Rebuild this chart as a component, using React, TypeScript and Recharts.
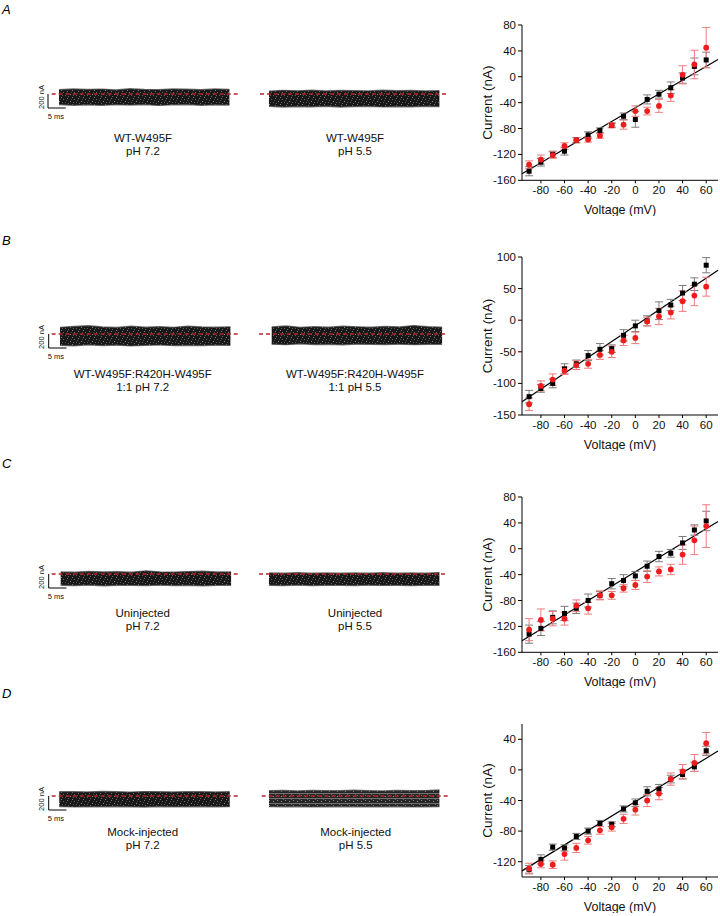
import React from "react";
import {
  ScatterChart,
  Scatter,
  XAxis,
  YAxis,
  ErrorBar,
  ReferenceLine,
  ComposedChart,
  Area,
} from "recharts";

const FONT = '"Liberation Sans", Arial, Helvetica, sans-serif';

// I-V data (nA), one value per voltage step
const voltages = [-90, -80, -70, -60, -50, -40, -30, -20, -10, 0, 10, 20, 30, 40, 50, 60];
const vTicks = [-80, -60, -40, -20, 0, 20, 40, 60];

const aPh72 = [-146, -132, -120, -115, -98, -90, -83, -75, -61, -66, -35, -27, -17, -2, 16, 26];
const aPh72Err = [7, 6, 5, 6, 4, 5, 4, 3, 5, 12, 7, 6, 9, 8, 13, 12];
const aPh55 = [-136, -128, -121, -107, -98, -97, -91, -75, -74, -53, -53, -45, -29, 3, 19, 45];
const aPh55Err = [6, 7, 5, 5, 4, 4, 4, 4, 7, 8, 6, 10, 9, 14, 22, 31];
const aFit = [-150, 26.6];

const bPh72 = [-121, -108, -100, -77, -69, -56, -46, -45, -24, -9, -1, 15, 24, 43, 57, 87];
const bPh72Err = [10, 6, 7, 8, 6, 8, 9, 6, 9, 9, 8, 14, 9, 12, 10, 12];
const bPh55 = [-133, -104, -94, -80, -71, -69, -55, -50, -32, -28, -2, 6, 12, 30, 39, 53];
const bPh55Err = [10, 8, 9, 6, 7, 7, 7, 9, 8, 9, 7, 13, 10, 16, 16, 15];
const bFit = [-129, 79];

const cPh72 = [-132, -123, -106, -100, -92, -80, -72, -54, -49, -42, -27, -12, -7, 9, 29, 43];
const cPh72Err = [14, 11, 10, 11, 8, 10, 6, 8, 9, 7, 8, 8, 6, 10, 8, 15];
const cPh55 = [-125, -110, -108, -108, -88, -92, -72, -72, -61, -56, -43, -35, -32, -9, 13, 35];
const cPh55Err = [17, 17, 11, 10, 9, 9, 7, 6, 6, 7, 9, 7, 8, 15, 22, 33];
const cFit = [-142, 42];

const dPh72 = [-130, -117, -101, -102, -87, -80, -70, -71, -51, -43, -28, -25, -12, -6, 4, 25];
const dPh72Err = [5, 6, 4, 4, 4, 4, 4, 3, 4, 5, 6, 6, 5, 6, 6, 6];
const dPh55 = [-129, -123, -124, -110, -102, -92, -79, -75, -64, -52, -40, -31, -12, -2, 9, 35];
const dPh55Err = [7, 5, 5, 8, 6, 5, 5, 5, 6, 7, 8, 8, 8, 9, 11, 14];
const dFit = [-132, 24.6];

// current traces: envelope of the noisy records (nA relative to baseline), sampled every 4 ms
const traceTimes = [0, 4, 8, 12, 16, 20, 24, 28, 32, 36, 40, 44, 48];
const aLeftTop = [60, 72, 64, 70, 58, 75, 66, 62, 71, 68, 60, 73, 65];
const aLeftBottom = [-150, -160, -155, -162, -152, -158, -150, -163, -155, -150, -160, -154, -157];
const aRightTop = [40, 52, 45, 55, 42, 50, 48, 44, 53, 46, 50, 42, 48];
const aRightBottom = [-175, -185, -178, -182, -176, -186, -180, -174, -184, -178, -182, -176, -180];
const bLeftTop = [95, 108, 118, 100, 92, 112, 98, 104, 95, 110, 100, 96, 102];
const bLeftBottom = [-160, -168, -155, -165, -158, -170, -162, -156, -166, -160, -164, -158, -162];
const bRightTop = [100, 115, 95, 105, 98, 112, 102, 96, 108, 100, 120, 104, 98];
const bRightBottom = [-145, -152, -140, -150, -146, -155, -142, -148, -150, -144, -152, -146, -148];
const cLeftTop = [30, 25, 35, 28, 32, 26, 45, 30, 27, 34, 40, 28, 30];
const cLeftBottom = [-160, -165, -158, -168, -160, -162, -166, -158, -164, -160, -168, -162, -160];
const cRightTop = [15, 10, 18, 12, 16, 10, 14, 12, 18, 10, 15, 12, 20];
const cRightBottom = [-160, -164, -158, -166, -160, -162, -165, -158, -163, -160, -166, -161, -160];
const dLeftTop = [60, 62, 58, 64, 60, 56, 63, 60, 58, 62, 60, 57, 61];
const dLeftBottom = [-150, -156, -152, -155, -150, -154, -157, -151, -153, -155, -150, -154, -152];
const dRightTop = [75, 78, 72, 80, 76, 74, 82, 76, 73, 79, 75, 77, 85];
const dRightBottom = [-152, -155, -150, -156, -153, -151, -155, -152, -154, -150, -156, -153, -152];

const PX_PER_MS = 3.55;
const NA_PER_PX = 200 / 14;
const X_AXIS_H = 36;

const rowsOf = (vals: number[], errs: number[]) =>
  voltages.map((v, k) => ({ v, i: vals[k], e: errs[k] }));

const squareShape = (p: any) => (
  <rect x={p.cx - 2.5} y={p.cy - 2.5} width={5} height={5} fill="#000" />
);
const circleShape = (p: any) => <circle cx={p.cx} cy={p.cy} r={2.9} fill="#ee1c1c" />;

function IVPlot({ top, marginTop, plotH, yDomain, yTicks, black, blackErr, red, redErr, fit }: any) {
  const height = marginTop + plotH + X_AXIS_H;
  return (
    <div style={{ position: "absolute", left: 460, top }}>
      <ScatterChart
        width={260}
        height={height}
        margin={{ top: marginTop, right: 2, bottom: 0, left: 0 }}
        style={{ fontFamily: FONT }}
      >
        <XAxis
          type="number"
          dataKey="v"
          domain={[-96, 70]}
          ticks={vTicks}
          height={X_AXIS_H}
          allowDataOverflow
          stroke="#000"
          tickSize={3}
          tickMargin={3}
          tick={{ fontSize: 11.5, fill: "#111" }}
          label={{
            value: "Voltage (mV)",
            position: "insideBottom",
            offset: 2,
            style: { fontSize: 12.5, fill: "#111" },
          }}
        />
        <YAxis
          type="number"
          dataKey="i"
          domain={yDomain}
          ticks={yTicks}
          width={62}
          allowDataOverflow
          stroke="#000"
          tickSize={4}
          tick={{ fontSize: 11.5, fill: "#111" }}
          label={{
            value: "Current (nA)",
            angle: -90,
            position: "insideLeft",
            dx: 22,
            style: { fontSize: 13.5, fill: "#111", textAnchor: "middle" },
          }}
        />
        <ReferenceLine
          segment={[
            { x: -96, y: fit[0] },
            { x: 70, y: fit[1] },
          ]}
          stroke="#000"
          strokeWidth={1.2}
        />
        <Scatter data={rowsOf(black, blackErr)} shape={squareShape} isAnimationActive={false}>
          <ErrorBar dataKey="e" direction="y" width={4} stroke="#7a7a7a" strokeWidth={1} />
        </Scatter>
        <Scatter data={rowsOf(red, redErr)} shape={circleShape} isAnimationActive={false}>
          <ErrorBar dataKey="e" direction="y" width={4} stroke="#f07c7c" strokeWidth={1} />
        </Scatter>
      </ScatterChart>
    </div>
  );
}

function Trace({ left, width, baseY, bandX, redX1, redX2, topVals, bottomVals, scaleBar, light }: any) {
  const H = 60;
  const t0 = bandX / PX_PER_MS;
  const data = traceTimes.map((t, k) => ({ t: t0 + t, r: [bottomVals[k], topVals[k]] }));
  const yMax = (H / 2) * NA_PER_PX;
  const sx = scaleBar ? (scaleBar - left) / PX_PER_MS : 0;
  const pid = light ? "noiseLight" : "noiseDark";
  return (
    <div style={{ position: "absolute", left, top: baseY - H / 2 }}>
      <ComposedChart width={width} height={H} data={data} margin={{ top: 0, right: 0, bottom: 0, left: 0 }}>
        <defs>
          <pattern id="noiseDark" width="11" height="7" patternUnits="userSpaceOnUse">
            <rect width="11" height="7" fill="#181818" />
            <rect x="1" y="2" width="1" height="1" fill="#fff" opacity="0.5" />
            <rect x="5" y="0" width="1" height="1" fill="#fff" opacity="0.35" />
            <rect x="3" y="5" width="1" height="1" fill="#fff" opacity="0.45" />
            <rect x="7" y="3" width="1" height="1" fill="#fff" opacity="0.3" />
            <rect x="9" y="6" width="1" height="1" fill="#fff" opacity="0.4" />
            <rect x="8" y="1" width="1" height="1" fill="#fff" opacity="0.25" />
            <rect x="4" y="3" width="1" height="1" fill="#fff" opacity="0.3" />
            <rect x="10" y="4" width="1" height="1" fill="#fff" opacity="0.35" />
            <rect x="2" y="0" width="1" height="1" fill="#fff" opacity="0.2" />
          </pattern>
          <pattern id="noiseLight" width="8" height="5" patternUnits="userSpaceOnUse">
            <rect width="8" height="5" fill="#262626" />
            <rect x="0" y="2" width="8" height="1" fill="#fff" opacity="0.35" />
            <rect x="2" y="0" width="1" height="1" fill="#fff" opacity="0.5" />
            <rect x="6" y="4" width="1" height="1" fill="#fff" opacity="0.4" />
            <rect x="4" y="3" width="1" height="1" fill="#fff" opacity="0.3" />
          </pattern>
        </defs>
        <XAxis type="number" dataKey="t" domain={[0, width / PX_PER_MS]} hide allowDataOverflow />
        <YAxis type="number" domain={[-yMax, yMax]} hide allowDataOverflow />
        <Area
          dataKey="r"
          type="linear"
          stroke="#3a3a3a"
          strokeWidth={1.4}
          strokeOpacity={0.7}
          fill={`url(#${pid})`}
          fillOpacity={1}
          isAnimationActive={false}
          dot={false}
          activeDot={false}
        />
        <ReferenceLine
          segment={[
            { x: (redX1 - left) / PX_PER_MS, y: 0 },
            { x: (redX2 - left) / PX_PER_MS, y: 0 },
          ]}
          stroke="#b3262b"
          strokeWidth={1.5}
          strokeDasharray="4 3"
        />
        {scaleBar && (
          <ReferenceLine
            segment={[
              { x: sx, y: 0 },
              { x: sx, y: -200 },
            ]}
            stroke="#000"
            strokeWidth={1}
          />
        )}
        {scaleBar && (
          <ReferenceLine
            segment={[
              { x: sx, y: -200 },
              { x: sx + 5, y: -200 },
            ]}
            stroke="#000"
            strokeWidth={1}
          />
        )}
      </ComposedChart>
    </div>
  );
}

function Caption({ cx, cy, lines }: { cx: number; cy: number; lines: string[] }) {
  return (
    <div
      style={{
        position: "absolute",
        left: cx - 110,
        top: cy - 6.5,
        width: 220,
        textAlign: "center",
        fontFamily: FONT,
        fontSize: 11.5,
        lineHeight: "13px",
        color: "#111",
      }}
    >
      {lines.map((l) => (
        <div key={l}>{l}</div>
      ))}
    </div>
  );
}

function ScaleText({ baseY }: { baseY: number }) {
  return (
    <>
      <div
        style={{
          position: "absolute",
          left: 42 - 20,
          top: baseY + 3 - 5,
          width: 40,
          height: 10,
          lineHeight: "10px",
          textAlign: "center",
          fontFamily: FONT,
          fontSize: 7.5,
          color: "#111",
          transform: "rotate(-90deg)",
        }}
      >
        200 nA
      </div>
      <div
        style={{
          position: "absolute",
          left: 56 - 20,
          top: baseY + 23 - 5,
          width: 40,
          lineHeight: "10px",
          textAlign: "center",
          fontFamily: FONT,
          fontSize: 7.5,
          color: "#111",
        }}
      >
        5 ms
      </div>
    </>
  );
}

function Letter({ y, ch }: { y: number; ch: string }) {
  return (
    <div
      style={{
        position: "absolute",
        left: 2,
        top: y - 8,
        fontFamily: FONT,
        fontStyle: "italic",
        fontSize: 13,
        lineHeight: "16px",
        color: "#000",
      }}
    >
      {ch}
    </div>
  );
}

export default function App() {
  return (
    <div
      style={{
        position: "absolute",
        left: 0,
        top: 0,
        width: 720,
        height: 916,
        background: "#fff",
        overflow: "hidden",
      }}
    >
      <Letter y={10} ch="A" />
      <Letter y={241} ch="B" />
      <Letter y={464} ch="C" />
      <Letter y={694} ch="D" />

      {/* A */}
      <Trace left={36} width={214} baseY={94} bandX={23} redX1={51.7} redX2={239} topVals={aLeftTop} bottomVals={aLeftBottom} scaleBar={48} />
      <Trace left={255} width={200} baseY={94} bandX={14} redX1={260} redX2={448} topVals={aRightTop} bottomVals={aRightBottom} />
      <ScaleText baseY={94} />
      <Caption cx={143} cy={138} lines={["WT-W495F", "pH 7.2"]} />
      <Caption cx={355} cy={138} lines={["WT-W495F", "pH 5.5"]} />
      <IVPlot top={0} marginTop={25} plotH={155.3} yDomain={[-160, 80]} yTicks={[-160, -120, -80, -40, 0, 40, 80]} black={aPh72} blackErr={aPh72Err} red={aPh55} redErr={aPh55Err} fit={aFit} />

      {/* B */}
      <Trace left={36} width={214} baseY={333.7} bandX={24} redX1={51.7} redX2={239} topVals={bLeftTop} bottomVals={bLeftBottom} scaleBar={48.7} />
      <Trace left={255} width={200} baseY={333.7} bandX={16.7} redX1={259} redX2={446.7} topVals={bRightTop} bottomVals={bRightBottom} />
      <ScaleText baseY={333.7} />
      <Caption cx={142.7} cy={374.3} lines={["WT-W495F:R420H-W495F", "1:1 pH 7.2"]} />
      <Caption cx={355} cy={374.3} lines={["WT-W495F:R420H-W495F", "1:1 pH 5.5"]} />
      <IVPlot top={220} marginTop={37} plotH={158} yDomain={[-150, 100]} yTicks={[-150, -100, -50, 0, 50, 100]} black={bPh72} blackErr={bPh72Err} red={bPh55} redErr={bPh55Err} fit={bFit} />

      {/* C */}
      <Trace left={36} width={214} baseY={573.7} bandX={24.7} redX1={51.7} redX2={239} topVals={cLeftTop} bottomVals={cLeftBottom} scaleBar={48.7} />
      <Trace left={255} width={200} baseY={573.7} bandX={14} redX1={259} redX2={446.7} topVals={cRightTop} bottomVals={cRightBottom} />
      <ScaleText baseY={573.7} />
      <Caption cx={142.7} cy={613} lines={["Uninjected", "pH 7.2"]} />
      <Caption cx={355} cy={613} lines={["Uninjected", "pH 5.5"]} />
      <IVPlot top={440} marginTop={57} plotH={155.3} yDomain={[-160, 80]} yTicks={[-160, -120, -80, -40, 0, 40, 80]} black={cPh72} blackErr={cPh72Err} red={cPh55} redErr={cPh55Err} fit={cFit} />

      {/* D */}
      <Trace left={36} width={214} baseY={796} bandX={23.3} redX1={51.7} redX2={239} topVals={dLeftTop} bottomVals={dLeftBottom} scaleBar={48.7} />
      <Trace left={255} width={200} baseY={796} bandX={14} redX1={261.7} redX2={449.3} topVals={dRightTop} bottomVals={dRightBottom} light />
      <ScaleText baseY={796} />
      <Caption cx={142.7} cy={832.3} lines={["Mock-injected", "pH 7.2"]} />
      <Caption cx={355.7} cy={832.3} lines={["Mock-injected", "pH 5.5"]} />
      <IVPlot top={670} marginTop={54} plotH={153} yDomain={[-140, 60]} yTicks={[-120, -80, -40, 0, 40]} black={dPh72} blackErr={dPh72Err} red={dPh55} redErr={dPh55Err} fit={dFit} />
    </div>
  );
}
